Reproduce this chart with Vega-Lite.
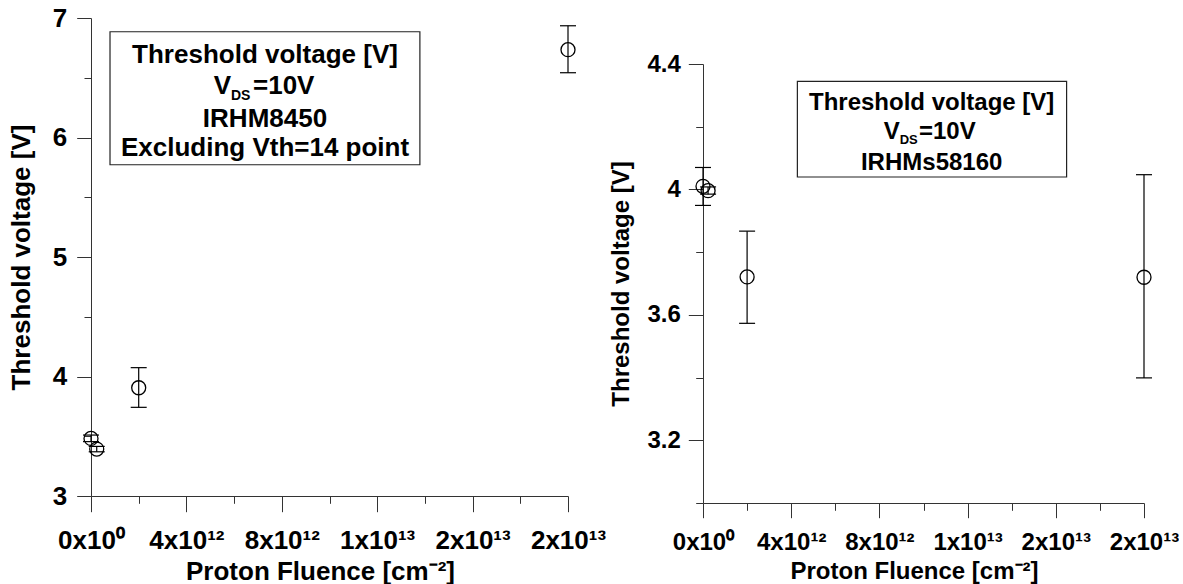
{
  "$schema": "https://vega.github.io/schema/vega-lite/v6.json",
  "background": "white",
  "padding": {"left": 8, "top": 5, "right": 0, "bottom": 0},
  "bounds": "flush",
  "spacing": 135,
  "datasets": {
    "irhm8450": [
      {"fluence": 0, "vth": 3.482, "lo": 3.455, "hi": 3.51},
      {"fluence": 240000000000, "vth": 3.393, "lo": 3.37, "hi": 3.415},
      {"fluence": 2000000000000, "vth": 3.906, "lo": 3.742, "hi": 4.074},
      {"fluence": 20000000000000, "vth": 6.735, "lo": 6.542, "hi": 6.935}
    ],
    "irhms58160": [
      {"fluence": 0, "vth": 4.01, "lo": 3.949, "hi": 4.07},
      {"fluence": 230000000000, "vth": 3.996, "lo": 3.985, "hi": 4.008},
      {"fluence": 2000000000000, "vth": 3.721, "lo": 3.573, "hi": 3.867},
      {"fluence": 20000000000000, "vth": 3.72, "lo": 3.399, "hi": 4.047}
    ]
  },
  "config": {
    "view": {"stroke": null},
    "axis": {
      "grid": false,
      "labelFont": "Liberation Sans",
      "labelFontWeight": "bold",
      "labelColor": "black",
      "titleFont": "Liberation Sans",
      "titleFontWeight": "bold",
      "titleColor": "black",
      "domainColor": "#333",
      "tickColor": "#333",
      "domainWidth": 1,
      "tickWidth": 1,
      "labelFlush": false,
      "labelOverlap": false
    }
  },
  "hconcat": [
    {
      "width": 477,
      "height": 478,
      "layer": [
        {
          "data": {"name": "irhm8450"},
          "layer": [
            {
              "mark": {"type": "rule", "color": "black", "strokeWidth": 1.2},
              "encoding": {
                "x": {
                  "field": "fluence", "type": "quantitative",
                  "scale": {"domain": [0, 20000000000000], "nice": false, "zero": false},
                  "axis": {
                    "values": [0, 2000000000000, 4000000000000, 6000000000000, 8000000000000, 10000000000000, 12000000000000, 14000000000000, 16000000000000, 18000000000000, 20000000000000],
                    "labelExpr": "datum.value == 0 ? '0x10⁰' : datum.value == 4000000000000 ? '4x10¹²' : datum.value == 8000000000000 ? '8x10¹²' : datum.value == 12000000000000 ? '1x10¹³' : (datum.value == 16000000000000 || datum.value == 20000000000000) ? '2x10¹³' : ''",
                    "tickSize": {"condition": {"test": "datum.value % 4000000000000 != 0", "value": 7.3}, "value": 15.7},
                    "labelFontSize": 26,
                    "labelPadding": 16,
                    "title": "Proton Fluence [cm⁻²]",
                    "titleFontSize": 26,
                    "titlePadding": 5,
                    "titleX": 229
                  }
                },
                "y": {
                  "field": "lo", "type": "quantitative",
                  "scale": {"domain": [3, 7], "nice": false, "zero": false},
                  "axis": {
                    "values": [3, 3.5, 4, 4.5, 5, 5.5, 6, 6.5, 7],
                    "labelExpr": "datum.value % 1 == 0 ? format(datum.value, 'd') : ''",
                    "tickSize": {"condition": {"test": "datum.value % 1 != 0", "value": 7}, "value": 14.3},
                    "labelFontSize": 26,
                    "labelPadding": 10,
                    "title": "Threshold voltage [V]",
                    "titleFontSize": 26,
                    "titlePadding": 18
                  }
                },
                "y2": {"field": "hi"}
              }
            },
            {
              "mark": {"type": "tick", "orient": "horizontal", "size": 16, "thickness": 1.2, "color": "black", "opacity": 1},
              "encoding": {
                "x": {"field": "fluence", "type": "quantitative"},
                "y": {"field": "hi", "type": "quantitative"}
              }
            },
            {
              "mark": {"type": "tick", "orient": "horizontal", "size": 16, "thickness": 1.2, "color": "black", "opacity": 1},
              "encoding": {
                "x": {"field": "fluence", "type": "quantitative"},
                "y": {"field": "lo", "type": "quantitative"}
              }
            },
            {
              "mark": {"type": "point", "shape": "circle", "size": 196, "filled": false, "color": "black", "strokeWidth": 1.3, "opacity": 1},
              "encoding": {
                "x": {"field": "fluence", "type": "quantitative"},
                "y": {"field": "vth", "type": "quantitative"}
              }
            }
          ]
        },
        {
          "data": {"values": [{}]},
          "layer": [
            {
              "mark": {"type": "rect", "fill": "white", "stroke": "#222", "strokeWidth": 1.2},
              "encoding": {
                "x": {"datum": 797000000000, "type": "quantitative"},
                "x2": {"datum": 13790000000000},
                "y": {"datum": 6.885, "type": "quantitative"},
                "y2": {"datum": 5.772}
              }
            },
            {
              "mark": {"type": "text", "text": "Threshold voltage [V]", "font": "Liberation Sans", "fontWeight": "bold", "fontSize": 26, "align": "center", "baseline": "alphabetic", "color": "black"},
              "encoding": {"x": {"datum": 7296000000000, "type": "quantitative"}, "y": {"datum": 6.623, "type": "quantitative"}}
            },
            {
              "mark": {"type": "text", "text": "V", "font": "Liberation Sans", "fontWeight": "bold", "fontSize": 26, "align": "right", "baseline": "alphabetic", "dx": -34, "color": "black"},
              "encoding": {"x": {"datum": 7296000000000, "type": "quantitative"}, "y": {"datum": 6.367, "type": "quantitative"}}
            },
            {
              "mark": {"type": "text", "text": "DS", "font": "Liberation Sans", "fontWeight": "bold", "fontSize": 14, "align": "left", "baseline": "alphabetic", "dx": -34, "dy": 6, "color": "black"},
              "encoding": {"x": {"datum": 7296000000000, "type": "quantitative"}, "y": {"datum": 6.367, "type": "quantitative"}}
            },
            {
              "mark": {"type": "text", "text": "=10V", "font": "Liberation Sans", "fontWeight": "bold", "fontSize": 26, "align": "left", "baseline": "alphabetic", "dx": -12, "color": "black"},
              "encoding": {"x": {"datum": 7296000000000, "type": "quantitative"}, "y": {"datum": 6.367, "type": "quantitative"}}
            },
            {
              "mark": {"type": "text", "text": "IRHM8450", "font": "Liberation Sans", "fontWeight": "bold", "fontSize": 26, "align": "center", "baseline": "alphabetic", "color": "black"},
              "encoding": {"x": {"datum": 7296000000000, "type": "quantitative"}, "y": {"datum": 6.085, "type": "quantitative"}}
            },
            {
              "mark": {"type": "text", "text": "Excluding Vth=14 point", "font": "Liberation Sans", "fontWeight": "bold", "fontSize": 26, "align": "center", "baseline": "alphabetic", "color": "black"},
              "encoding": {"x": {"datum": 7296000000000, "type": "quantitative"}, "y": {"datum": 5.842, "type": "quantitative"}}
            }
          ]
        }
      ]
    },
    {
      "width": 441,
      "height": 485,
      "layer": [
        {
          "data": {"name": "irhms58160"},
          "layer": [
            {
              "mark": {"type": "rule", "color": "black", "strokeWidth": 1.2},
              "encoding": {
                "x": {
                  "field": "fluence", "type": "quantitative",
                  "scale": {"domain": [0, 20000000000000], "nice": false, "zero": false},
                  "axis": {
                    "values": [0, 2000000000000, 4000000000000, 6000000000000, 8000000000000, 10000000000000, 12000000000000, 14000000000000, 16000000000000, 18000000000000, 20000000000000],
                    "labelExpr": "datum.value == 0 ? '0x10⁰' : datum.value == 4000000000000 ? '4x10¹²' : datum.value == 8000000000000 ? '8x10¹²' : datum.value == 12000000000000 ? '1x10¹³' : (datum.value == 16000000000000 || datum.value == 20000000000000) ? '2x10¹³' : ''",
                    "tickSize": {"condition": {"test": "datum.value % 4000000000000 != 0", "value": 7.3}, "value": 14.7},
                    "labelFontSize": 24,
                    "labelPadding": 13,
                    "title": "Proton Fluence [cm⁻²]",
                    "titleFontSize": 24,
                    "titlePadding": 5,
                    "titleX": 211
                  }
                },
                "y": {
                  "field": "lo", "type": "quantitative",
                  "scale": {"domain": [3.0, 4.4], "range": [485, 46], "nice": false, "zero": false},
                  "axis": {
                    "values": [3.0, 3.2, 3.4, 3.6, 3.8, 4.0, 4.2, 4.4],
                    "labelExpr": "round(datum.value * 10) % 4 == 0 ? (round(datum.value * 10) == 40 ? '4' : format(datum.value, '.1f')) : ''",
                    "tickSize": {"condition": {"test": "round(datum.value * 10) % 4 != 0", "value": 7.3}, "value": 14.7},
                    "labelFontSize": 24,
                    "labelPadding": 8,
                    "title": "Threshold voltage [V]",
                    "titleFontSize": 24,
                    "titlePadding": 13
                  }
                },
                "y2": {"field": "hi"}
              }
            },
            {
              "mark": {"type": "tick", "orient": "horizontal", "size": 16, "thickness": 1.2, "color": "black", "opacity": 1},
              "encoding": {
                "x": {"field": "fluence", "type": "quantitative"},
                "y": {"field": "hi", "type": "quantitative"}
              }
            },
            {
              "mark": {"type": "tick", "orient": "horizontal", "size": 16, "thickness": 1.2, "color": "black", "opacity": 1},
              "encoding": {
                "x": {"field": "fluence", "type": "quantitative"},
                "y": {"field": "lo", "type": "quantitative"}
              }
            },
            {
              "mark": {"type": "point", "shape": "circle", "size": 196, "filled": false, "color": "black", "strokeWidth": 1.3, "opacity": 1},
              "encoding": {
                "x": {"field": "fluence", "type": "quantitative"},
                "y": {"field": "vth", "type": "quantitative"}
              }
            }
          ]
        },
        {
          "data": {"values": [{}]},
          "layer": [
            {
              "mark": {"type": "rect", "fill": "white", "stroke": "#222", "strokeWidth": 1.2},
              "encoding": {
                "x": {"datum": 4280000000000, "type": "quantitative"},
                "x2": {"datum": 16490000000000},
                "y": {"datum": 4.3445, "type": "quantitative"},
                "y2": {"datum": 4.0396}
              }
            },
            {
              "mark": {"type": "text", "text": "Threshold voltage [V]", "font": "Liberation Sans", "fontWeight": "bold", "fontSize": 24, "align": "center", "baseline": "alphabetic", "color": "black"},
              "encoding": {"x": {"datum": 10370000000000, "type": "quantitative"}, "y": {"datum": 4.2542, "type": "quantitative"}}
            },
            {
              "mark": {"type": "text", "text": "V", "font": "Liberation Sans", "fontWeight": "bold", "fontSize": 24, "align": "right", "baseline": "alphabetic", "dx": -32, "color": "black"},
              "encoding": {"x": {"datum": 10370000000000, "type": "quantitative"}, "y": {"datum": 4.1608, "type": "quantitative"}}
            },
            {
              "mark": {"type": "text", "text": "DS", "font": "Liberation Sans", "fontWeight": "bold", "fontSize": 13, "align": "left", "baseline": "alphabetic", "dx": -32, "dy": 5, "color": "black"},
              "encoding": {"x": {"datum": 10370000000000, "type": "quantitative"}, "y": {"datum": 4.1608, "type": "quantitative"}}
            },
            {
              "mark": {"type": "text", "text": "=10V", "font": "Liberation Sans", "fontWeight": "bold", "fontSize": 24, "align": "left", "baseline": "alphabetic", "dx": -12.7, "color": "black"},
              "encoding": {"x": {"datum": 10370000000000, "type": "quantitative"}, "y": {"datum": 4.1608, "type": "quantitative"}}
            },
            {
              "mark": {"type": "text", "text": "IRHMs58160", "font": "Liberation Sans", "fontWeight": "bold", "fontSize": 24, "align": "center", "baseline": "alphabetic", "color": "black"},
              "encoding": {"x": {"datum": 10370000000000, "type": "quantitative"}, "y": {"datum": 4.0628, "type": "quantitative"}}
            }
          ]
        }
      ]
    }
  ]
}
